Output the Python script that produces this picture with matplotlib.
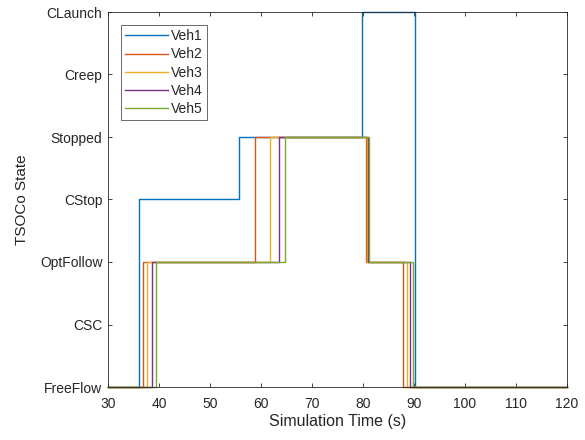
import matplotlib
matplotlib.use("Agg")
import matplotlib.pyplot as plt

plt.rcParams['font.family'] = ['Liberation Sans', 'DejaVu Sans']

state_labels = ["FreeFlow", "CSC", "OptFollow", "CStop", "Stopped", "Creep", "CLaunch"]
x_ticks = [30, 40, 50, 60, 70, 80, 90, 100, 110, 120]

vehicles = ["Veh1", "Veh2", "Veh3", "Veh4", "Veh5"]
colors = ["#0072BD", "#D95319", "#EDB120", "#7E2F8E", "#77AC30"]

# switch times (s) and the state entered at each time
veh1_t = [30, 36.0, 55.7, 79.9, 90.1, 120]
veh1_s = [0, 3, 4, 6, 0, 0]
veh2_t = [30, 36.8, 58.8, 80.6, 87.9, 120]
veh2_s = [0, 2, 4, 2, 0, 0]
veh3_t = [30, 37.6, 61.8, 80.8, 88.6, 120]
veh3_s = [0, 2, 4, 2, 0, 0]
veh4_t = [30, 38.6, 63.6, 81.0, 89.2, 120]
veh4_s = [0, 2, 4, 2, 0, 0]
veh5_t = [30, 39.5, 64.7, 81.2, 89.9, 120]
veh5_s = [0, 2, 4, 2, 0, 0]

times = [veh1_t, veh2_t, veh3_t, veh4_t, veh5_t]
states = [veh1_s, veh2_s, veh3_s, veh4_s, veh5_s]

dark = (0.15, 0.15, 0.15)

fig = plt.figure(figsize=(5.85, 4.4), dpi=100)
ax = fig.add_axes([108 / 585, 53 / 440, 459 / 585, 375 / 440])

for name, c, t, s in zip(vehicles, colors, times, states):
    ax.plot(t, s, drawstyle='steps-post', color=c, lw=1.0, label=name,
            clip_on=False)

ax.set_xlim(30, 120)
ax.set_ylim(0, 6)
ax.set_xticks(x_ticks)
ax.set_yticks(range(len(state_labels)))
ax.set_yticklabels(state_labels)
ax.tick_params(direction='in', length=3, width=0.6, colors=dark, labelsize=10,
               top=True, right=True)
ax.tick_params(axis='x', pad=7)
ax.tick_params(axis='y', pad=4)
for sp in ax.spines.values():
    sp.set_color(dark)
    sp.set_linewidth(0.6)

ax.set_xlabel("Simulation Time (s)", fontsize=11.5, color=dark, labelpad=2)
ax.set_ylabel("TSOCo State", fontsize=11, color=dark, labelpad=8)

leg = ax.legend(loc='upper left', bbox_to_anchor=(0.028, 0.965), fontsize=10,
                frameon=True, fancybox=False, handlelength=3.1, handletextpad=0.2,
                borderpad=0.3, labelspacing=0.3, borderaxespad=0)
leg.get_frame().set_edgecolor(dark)
leg.get_frame().set_linewidth(0.6)
for txt in leg.get_texts():
    txt.set_color(dark)

fig.savefig("out.png", dpi=100)
